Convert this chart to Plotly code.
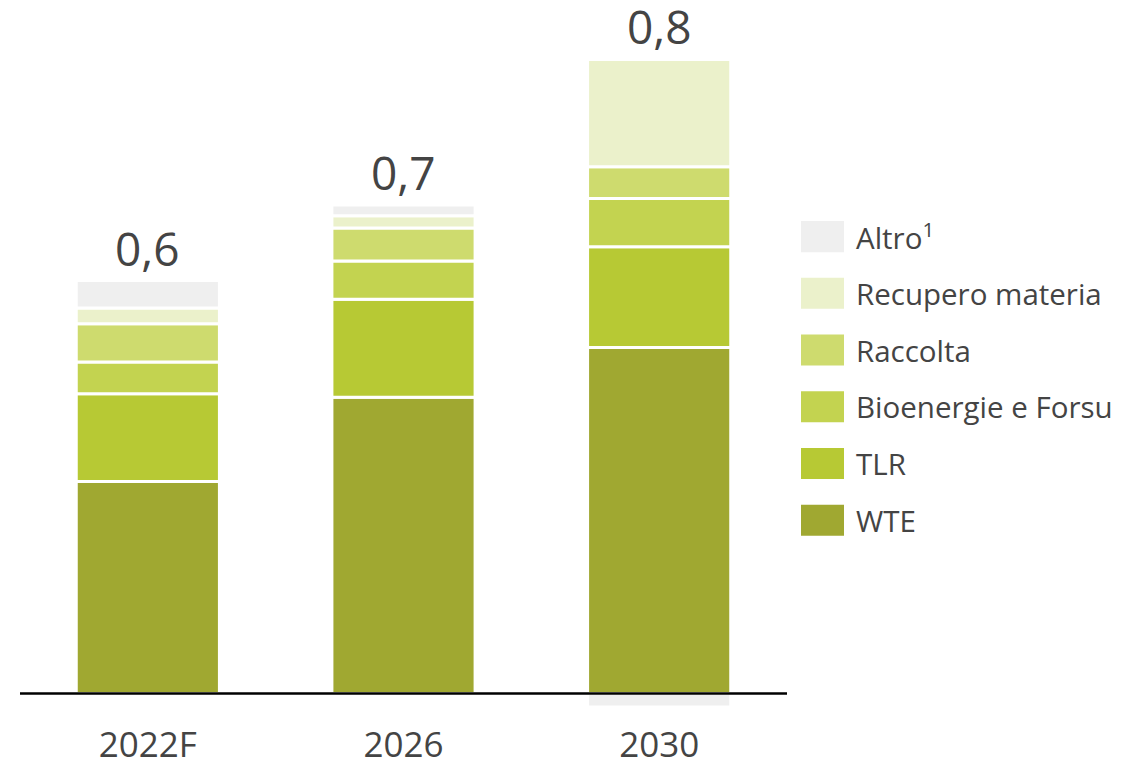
import plotly.graph_objects as go

# data
anni = ['2022F', '2026', '2030']
totali = ['0,6', '0,7', '0,8']
wte = [0.294, 0.411, 0.480]
tlr = [0.122, 0.136, 0.140]
bioenergie = [0.044, 0.053, 0.067]
raccolta = [0.053, 0.046, 0.044]
recupero = [0.022, 0.017, 0.149]
altro = [0.038, 0.015, -0.019]

serie = [
    ('WTE', wte, '#a0a831'),
    ('TLR', tlr, '#b7c934'),
    ('Bioenergie e Forsu', bioenergie, '#c3d350'),
    ('Raccolta', raccolta, '#cedb6e'),
    ('Recupero materia', recupero, '#ebf1cb'),
    ('Altro<sup>1</sup>', altro, '#efefef'),
]

W, H = 1145, 768
OFF = 8  # page body margin
ML, MR, MT, MB = 12, 366, 24, 61.4
TXT = '#444444'
FONT = 'Open Sans'

fig = go.Figure()
for nome, vals, col in serie:
    fig.add_trace(go.Bar(x=anni, y=vals, name=nome, marker_color=col,
                         marker_line_color='white', marker_line_width=3,
                         width=0.56, showlegend=False, hoverinfo='y+name'))

# total labels above bars
tops = [sum(v for v in vals if v > 0) for vals in zip(wte, tlr, bioenergie, raccolta, recupero, altro)]
for i, (t, lab) in enumerate(zip(tops, totali)):
    fig.add_annotation(x=i, y=t, text=lab, showarrow=False, yanchor='bottom',
                       yshift=0, font=dict(size=46, color=TXT, family=FONT))

# baseline
fig.add_shape(type='line', xref='paper', yref='y', x0=0, x1=1, y0=0, y1=0,
              line=dict(color='black', width=2.5), layer='above')

# custom legend (big swatches), positions given in page pixels
pw, ph = W - ML - MR, H - MT - MB
def px_x(p):
    return (p - OFF - ML) / pw
def px_y(p):
    return (H - MB - (p - OFF)) / ph

for k, (nome, vals, col) in enumerate(reversed(serie)):
    cy = 236.5 + 56.7 * k
    fig.add_shape(type='rect', xref='paper', yref='paper',
                  x0=px_x(801), x1=px_x(844), y0=px_y(cy + 15.5), y1=px_y(cy - 15.5),
                  fillcolor=col, line_width=0)
    fig.add_annotation(xref='paper', yref='paper', x=px_x(854), y=px_y(cy), text=nome,
                       xanchor='left', yanchor='middle', showarrow=False,
                       font=dict(size=29.5, color=TXT, family=FONT))

fig.update_layout(width=W, height=H, margin=dict(l=ML, r=MR, t=MT, b=MB),
                  barmode='relative', plot_bgcolor='white', paper_bgcolor='white',
                  font=dict(family=FONT, color=TXT))
fig.update_xaxes(type='category', range=[-0.5, 2.5], showline=False, showgrid=False,
                 ticks='', automargin=False,
                 tickfont=dict(size=35, color=TXT, family=FONT), ticklabelstandoff=6)
fig.update_yaxes(range=[-0.03, 0.918], visible=False, showgrid=False, zeroline=False)

fig.write_html('out.html')
